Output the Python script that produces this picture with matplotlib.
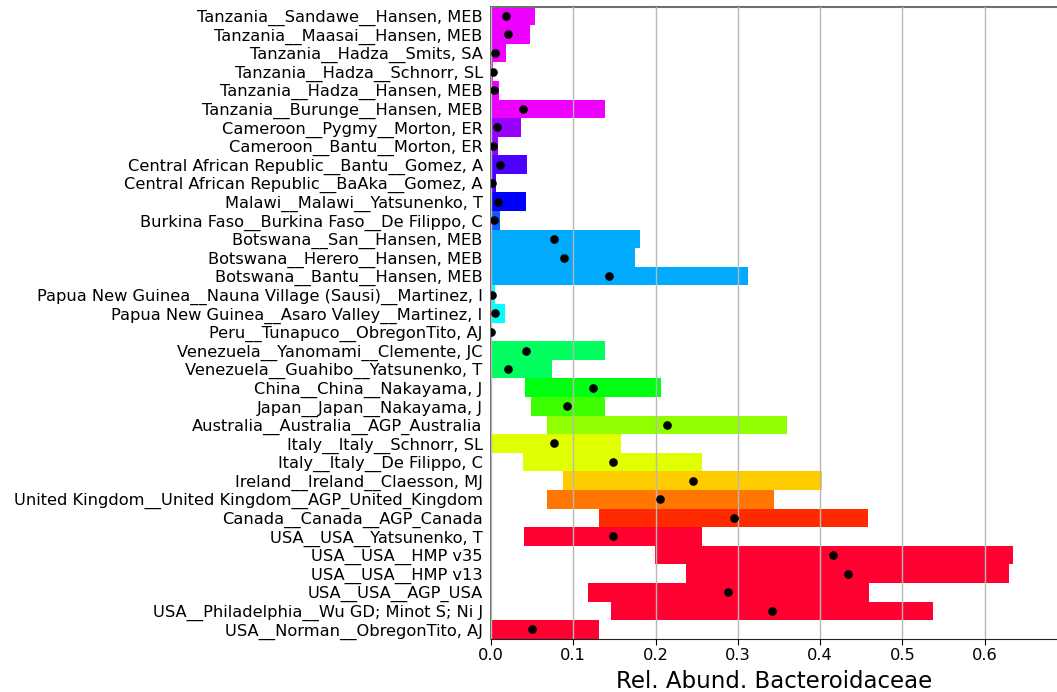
import matplotlib
matplotlib.use("Agg")
import matplotlib.pyplot as plt

# rows from top to bottom
labels = [
    "Tanzania__Sandawe__Hansen, MEB",
    "Tanzania__Maasai__Hansen, MEB",
    "Tanzania__Hadza__Smits, SA",
    "Tanzania__Hadza__Schnorr, SL",
    "Tanzania__Hadza__Hansen, MEB",
    "Tanzania__Burunge__Hansen, MEB",
    "Cameroon__Pygmy__Morton, ER",
    "Cameroon__Bantu__Morton, ER",
    "Central African Republic__Bantu__Gomez, A",
    "Central African Republic__BaAka__Gomez, A",
    "Malawi__Malawi__Yatsunenko, T",
    "Burkina Faso__Burkina Faso__De Filippo, C",
    "Botswana__San__Hansen, MEB",
    "Botswana__Herero__Hansen, MEB",
    "Botswana__Bantu__Hansen, MEB",
    "Papua New Guinea__Nauna Village (Sausi)__Martinez, I",
    "Papua New Guinea__Asaro Valley__Martinez, I",
    "Peru__Tunapuco__ObregonTito, AJ",
    "Venezuela__Yanomami__Clemente, JC",
    "Venezuela__Guahibo__Yatsunenko, T",
    "China__China__Nakayama, J",
    "Japan__Japan__Nakayama, J",
    "Australia__Australia__AGP_Australia",
    "Italy__Italy__Schnorr, SL",
    "Italy__Italy__De Filippo, C",
    "Ireland__Ireland__Claesson, MJ",
    "United Kingdom__United Kingdom__AGP_United_Kingdom",
    "Canada__Canada__AGP_Canada",
    "USA__USA__Yatsunenko, T",
    "USA__USA__HMP v35",
    "USA__USA__HMP v13",
    "USA__USA__AGP_USA",
    "USA__Philadelphia__Wu GD; Minot S; Ni J",
    "USA__Norman__ObregonTito, AJ",
]

q1 = [0.0, 0.0, 0.0, 0.0, 0.0, 0.0, 0.0, 0.0, 0.0, 0.0, 0.0, 0.0,
      0.0, 0.0, 0.0, 0.0, 0.0, 0.0, 0.0, 0.0,
      0.041, 0.0486, 0.068, 0.0, 0.0394, 0.0878, 0.0686, 0.1317,
      0.0399, 0.1998, 0.2366, 0.1183, 0.146, 0.0]
q3 = [0.0535, 0.047, 0.018, 0.003, 0.0097, 0.139, 0.0365, 0.008, 0.044, 0.006, 0.0425, 0.011,
      0.181, 0.175, 0.312, 0.005, 0.017, 0.0015, 0.139, 0.074,
      0.2066, 0.1385, 0.3597, 0.158, 0.256, 0.402, 0.3437, 0.458,
      0.256, 0.6345, 0.630, 0.4593, 0.537, 0.1317]
median = [0.018, 0.021, 0.005, 0.002, 0.004, 0.039, 0.0075, 0.003, 0.0105, 0.0015, 0.0085, 0.004,
          0.077, 0.089, 0.143, 0.0015, 0.0045, 0.0005, 0.0425, 0.021,
          0.124, 0.0927, 0.2135, 0.076, 0.148, 0.2456, 0.205, 0.2953,
          0.148, 0.4163, 0.4337, 0.2886, 0.3419, 0.050]

country_colors = {
    "Tanzania": "#ee00ff",
    "Cameroon": "#9a00ff",
    "Central African Republic": "#4d00ff",
    "Malawi": "#0000ff",
    "Burkina Faso": "#0a5cff",
    "Botswana": "#00aaff",
    "Papua New Guinea": "#00ffff",
    "Peru": "#00ffaa",
    "Venezuela": "#00ff5e",
    "China": "#00ff10",
    "Japan": "#3cff00",
    "Australia": "#90ff00",
    "Italy": "#e0ff00",
    "Ireland": "#ffcc00",
    "United Kingdom": "#ff7700",
    "Canada": "#ff2a00",
    "USA": "#ff0030",
}

colors = [country_colors[l.split("__")[0]] for l in labels]
y = list(range(len(labels)))
widths = [b - a for a, b in zip(q1, q3)]

fig = plt.figure(figsize=(10.57, 6.92), dpi=100)
ax = fig.add_axes([0.4645, 0.077, 0.5355, 0.9135])

ax.barh(y, widths, left=q1, height=1.0, color=colors, zorder=1)
ax.plot(median, y, "o", color="black", markersize=5.2, zorder=3)

ax.set_ylim(len(labels) - 0.5, -0.5)
ax.set_xlim(0, 0.688)
ax.set_yticks(y)
ax.set_yticklabels(labels, fontsize=11.7)
ax.set_xticks([0.0, 0.1, 0.2, 0.3, 0.4, 0.5, 0.6])
ax.set_xticklabels(["0.0", "0.1", "0.2", "0.3", "0.4", "0.5", "0.6"], fontsize=11.7)
ax.tick_params(axis="y", length=0, pad=6)
ax.tick_params(axis="x", length=4, pad=3)

ax.set_axisbelow(False)
ax.xaxis.grid(True, color="#b8b8b8", linewidth=1)
ax.set_xlabel("Rel. Abund. Bacteroidaceae", fontsize=16.5, labelpad=5)

ax.spines["right"].set_visible(False)
ax.spines["top"].set_color("#707070")
ax.spines["top"].set_linewidth(1.5)
ax.spines["left"].set_color("#555555")
ax.spines["left"].set_linewidth(1.2)
ax.spines["bottom"].set_color("#222222")

fig.savefig("out.png", dpi=100)
